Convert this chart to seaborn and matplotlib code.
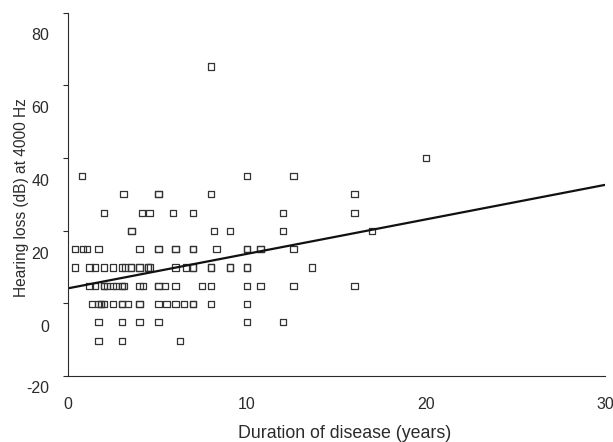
import numpy as np
import pandas as pd
import matplotlib
matplotlib.use("Agg")
import matplotlib.pyplot as plt
import seaborn as sns

# Hearing loss levels (dB) and the disease durations (years) seen at each level
loss_levels = [-5, 0, 5, 10, 15, 20, 25, 30, 35, 40, 45, 70]

dur_m5 = [1.7, 3.0, 6.25]
dur_0 = [1.7, 3.0, 4.0, 5.05, 10.0, 12.0]
dur_5 = [1.35, 1.7, 1.85, 1.85, 2.0, 2.5, 3.0, 3.0, 3.35, 4.0, 4.0, 5.05,
         5.5, 6.0, 6.5, 7.0, 7.0, 8.0, 10.0]
dur_10 = [1.2, 1.5, 2.0, 2.0, 2.2, 2.5, 2.7, 3.0, 3.0, 3.15, 4.0, 4.2, 5.05,
          5.05, 5.4, 6.0, 7.5, 8.0, 10.0, 10.75, 12.6, 16.0]
dur_15 = [0.4, 1.2, 1.5, 2.0, 2.5, 3.0, 3.2, 3.5, 3.5, 4.0, 4.0, 4.45, 4.45,
          4.6, 6.0, 6.6, 7.0, 7.0, 8.0, 8.0, 9.05, 9.05, 10.0, 10.0, 13.65]
dur_20 = [0.4, 0.85, 1.05, 1.7, 4.0, 5.05, 5.05, 6.0, 6.0, 7.0, 7.0, 8.3,
          10.0, 10.0, 10.75, 10.75, 12.6]
dur_25 = [3.55, 3.55, 8.15, 9.05, 12.0, 17.0]
dur_30 = [2.0, 4.15, 4.55, 5.85, 7.0, 12.0, 16.0]
dur_35 = [3.1, 5.05, 5.05, 8.0, 16.0]
dur_40 = [0.8, 10.0, 12.6]
dur_45 = [20.0]
dur_70 = [8.0]

# Fitted regression line
fit_x = [0, 30]
fit_y = [9.3, 37.6]

y_tick_labels = ["0", "20", "40", "60", "80"]
x_ticks = [0, 10, 20, 30]

all_durs = [dur_m5, dur_0, dur_5, dur_10, dur_15, dur_20, dur_25, dur_30,
            dur_35, dur_40, dur_45, dur_70]
rows = []
for lvl, durs in zip(loss_levels, all_durs):
    for d in durs:
        rows.append({"Duration": d, "Loss": lvl})
df = pd.DataFrame(rows)

sns.set_theme(style="white")
plt.rcParams["font.family"] = ["Liberation Sans", "DejaVu Sans"]

ink = "#2b2b2b"

fig = plt.figure(figsize=(6.13, 4.42), dpi=100)
ax = fig.add_axes([68 / 613, 1 - 375.7 / 442, 537 / 613, 363 / 442])

sns.scatterplot(
    data=df, x="Duration", y="Loss", ax=ax,
    marker="s", s=20, facecolor="none", edgecolor="#333333", linewidth=0.9,
    legend=False
)

sns.lineplot(x=fit_x, y=fit_y, ax=ax, color="#111111", linewidth=1.6)

ax.set_xlim(0, 30)
ax.set_ylim(-14.6, 84.7)

# x axis
ax.set_xticks(x_ticks)
ax.set_xticklabels([str(t) for t in x_ticks])
ax.tick_params(axis="x", which="major", direction="out", length=3.5,
               width=0.8, color=ink, pad=12, labelsize=11.5, labelcolor=ink)

# y axis: tick marks and labels are offset in the original figure
ax.set_yticks(np.linspace(-14.6, 84.7, 6), minor=True)
ax.set_yticks([int(t) - 1.0 for t in y_tick_labels])
ax.set_yticklabels(y_tick_labels)
ax.tick_params(axis="y", which="major", length=0, pad=13.5,
               labelsize=11.5, labelcolor=ink)
ax.tick_params(axis="y", which="minor", direction="out", length=3.6,
               width=0.8, color=ink, left=True)
ax.text(-0.0354, -17.7, "-20", transform=ax.get_yaxis_transform(),
        ha="right", va="center_baseline", fontsize=11.5, color=ink,
        clip_on=False)

for side in ["top", "right"]:
    ax.spines[side].set_visible(False)
for side in ["left", "bottom"]:
    ax.spines[side].set_color(ink)
    ax.spines[side].set_linewidth(0.8)

ax.set_xlabel("Duration of disease (years)", fontsize=12.8, color=ink,
              va="center")
ax.xaxis.set_label_coords(0.515, -0.158)
ax.set_ylabel("Hearing loss (dB) at 4000 Hz", fontsize=11.2, color=ink,
              va="center")
ax.yaxis.set_label_coords(-0.087, 0.492)

fig.savefig("out.png", dpi=100)
